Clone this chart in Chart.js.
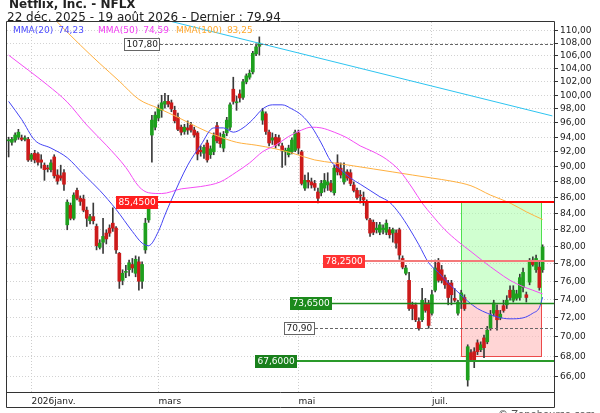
<!DOCTYPE html>
<html lang="fr">
<head>
<meta charset="utf-8">
<title>Netflix, Inc. - NFLX</title>
<script src="https://cdn.jsdelivr.net/npm/chart.js@4.4.1/dist/chart.umd.min.js"></script>
<style>
  html, body { margin: 0; padding: 0; background: #fff; }
  #box { width: 600px; height: 413px; overflow: hidden; }
  canvas { display: block; }
</style>
</head>
<body>
<div id="box"><canvas id="nflx" width="600" height="413"></canvas></div>
<script>
// sessions: Dec 22 2025 -> Aug 19 2026, NYSE closed days skipped
const firstDay = '2025-12-22';
const lastDay  = '2026-08-19';
const closedDays = ['2025-12-25', '2026-01-01', '2026-01-19', '2026-02-16',
                    '2026-04-03', '2026-05-25', '2026-06-19', '2026-07-03'];
const padSlots = 3;

const opens = [
  93.5, 93.3, 93.6, 94.0, 93.9, 93.7, 93.7, 91.0, 91.8, 91.7,
  90.9, 90.2, 89.8, 89.6, 91.3, 88.9, 88.8, 89.2, 82.6, 85.0,
  83.4, 86.9, 85.9, 85.8, 84.4, 83.1, 83.6, 82.4, 79.9, 80.5,
  81.6, 82.2, 82.8, 82.2, 79.2, 76.1, 77.0, 77.3, 77.9, 76.9,
  78.2, 76.0, 79.6, 83.2, 94.3, 95.4, 96.7, 97.8, 98.7, 99.1,
  98.9, 97.8, 96.8, 95.4, 94.8, 95.3, 95.7, 95.0, 94.6, 92.2,
  91.8, 93.2, 91.6, 92.0, 95.6, 94.0, 92.5, 94.6, 95.4, 100.9,
  98.9, 100.2, 99.7, 102.0, 102.7, 103.5, 106.3, 107.5, 96.4, 97.3,
  94.7, 93.6, 94.0, 93.9, 92.8, 92.0, 91.6, 92.0, 92.2, 94.6,
  92.0, 87.2, 88.2, 88.0, 87.8, 86.7, 86.6, 87.2, 87.6, 87.8,
  86.6, 90.5, 89.8, 88.0, 89.3, 89.2, 87.6, 86.9, 86.3, 86.0,
  85.4, 83.2, 82.9, 82.0, 81.7, 82.0, 81.7, 82.0, 81.6, 81.6,
  82.0, 78.6, 76.9, 76.1, 73.4, 73.4, 71.6, 71.8, 73.6, 73.6,
  72.5, 75.0, 78.1, 77.3, 76.4, 75.8, 75.8, 74.1, 72.5, 73.9,
  74.2, 65.7, 68.4, 68.5, 69.4, 68.7, 69.9, 69.5, 70.9, 72.5,
  72.8, 72.0, 73.3, 73.4, 75.0, 73.9, 74.1, 74.2, 75.3, 74.5,
  75.9, 78.4, 77.3, 77.6, 77.3
];
const highs = [
  94.0, 94.0, 94.6, 95.1, 94.3, 94.2, 94.0, 91.8, 92.2, 91.9,
  91.6, 90.5, 90.2, 90.9, 91.6, 89.6, 90.2, 89.6, 85.7, 85.3,
  86.6, 87.2, 86.2, 86.3, 84.8, 83.9, 85.3, 82.7, 80.8, 83.4,
  82.0, 82.6, 84.7, 82.4, 79.3, 77.3, 77.8, 78.4, 78.6, 78.9,
  78.8, 78.2, 83.4, 85.0, 97.1, 97.6, 98.6, 100.0, 100.3, 100.0,
  99.3, 98.4, 97.4, 95.7, 95.8, 96.3, 96.1, 95.4, 94.8, 92.8,
  92.9, 93.6, 92.8, 94.6, 96.1, 94.6, 94.8, 96.8, 98.9, 102.7,
  99.9, 100.8, 102.4, 103.2, 103.8, 106.7, 107.9, 109.0, 98.1, 97.6,
  95.0, 94.6, 94.4, 94.3, 93.2, 92.5, 92.9, 93.9, 95.0, 95.0,
  92.2, 88.9, 89.2, 88.5, 88.2, 87.2, 88.2, 89.1, 89.2, 88.2,
  90.2, 91.6, 90.5, 90.5, 89.6, 89.6, 88.0, 87.2, 86.9, 86.7,
  85.7, 83.4, 83.2, 82.9, 82.9, 82.6, 83.2, 82.3, 82.2, 82.0,
  82.2, 78.9, 77.8, 77.0, 73.7, 73.6, 72.0, 75.2, 74.1, 73.9,
  75.0, 78.4, 78.6, 77.8, 76.7, 76.1, 76.1, 75.2, 73.9, 75.0,
  74.5, 69.2, 68.7, 68.9, 69.7, 69.5, 70.2, 71.1, 72.8, 73.9,
  73.4, 72.8, 73.9, 74.4, 75.5, 75.5, 75.0, 76.8, 77.5, 74.8,
  78.6, 78.8, 79.0, 78.2, 80.2
];
const lows = [
  91.3, 92.9, 93.3, 93.7, 93.5, 93.5, 90.7, 90.7, 90.5, 90.2,
  89.8, 88.2, 89.3, 89.3, 88.5, 87.7, 88.2, 86.9, 82.0, 83.2,
  83.2, 85.7, 85.0, 84.2, 82.4, 82.7, 82.7, 79.6, 79.7, 79.2,
  80.3, 81.2, 81.8, 79.2, 75.2, 75.6, 76.4, 76.6, 77.0, 76.5,
  75.0, 75.2, 79.2, 82.9, 90.6, 95.0, 96.3, 96.8, 98.1, 98.3,
  97.6, 96.0, 94.9, 94.3, 94.4, 94.4, 94.7, 94.0, 90.9, 91.4,
  91.1, 90.6, 91.1, 91.6, 93.2, 92.6, 92.0, 94.2, 95.0, 98.7,
  97.8, 99.0, 99.4, 101.7, 102.4, 103.2, 106.0, 106.1, 95.8, 94.4,
  92.8, 93.0, 92.5, 92.8, 89.9, 90.2, 91.3, 91.7, 92.0, 91.7,
  87.6, 86.9, 87.2, 87.2, 86.9, 85.3, 86.2, 86.7, 86.9, 86.7,
  86.3, 88.9, 88.5, 87.7, 88.2, 87.5, 86.7, 85.8, 85.3, 85.0,
  83.2, 81.2, 81.4, 81.6, 81.4, 81.5, 81.4, 81.0, 80.5, 79.8,
  78.5, 77.4, 76.7, 72.8, 71.8, 71.6, 70.7, 71.6, 72.6, 70.9,
  72.3, 74.8, 75.9, 75.8, 75.2, 73.4, 73.4, 73.7, 72.3, 73.0,
  72.8, 65.1, 67.5, 66.9, 68.2, 68.5, 67.9, 69.3, 70.7, 72.2,
  70.7, 71.8, 72.6, 73.0, 73.9, 73.7, 73.9, 73.9, 74.8, 73.7,
  75.6, 77.7, 77.0, 75.0, 77.0
];
const closes = [
  93.6, 93.7, 94.3, 94.7, 93.7, 93.9, 90.9, 91.6, 90.9, 90.6,
  90.6, 89.6, 89.7, 90.5, 88.8, 88.1, 88.5, 87.7, 85.4, 83.4,
  86.3, 85.9, 85.5, 84.4, 83.4, 83.6, 83.1, 80.1, 80.4, 81.2,
  80.9, 81.6, 82.2, 79.6, 76.0, 76.9, 77.1, 78.1, 77.5, 78.5,
  76.0, 77.9, 82.8, 84.7, 96.4, 97.1, 98.1, 98.9, 99.1, 98.7,
  98.0, 96.3, 95.1, 94.7, 95.4, 95.0, 95.0, 94.3, 91.7, 92.0,
  92.6, 90.9, 92.4, 94.2, 93.5, 93.1, 94.4, 96.4, 98.6, 99.1,
  99.0, 99.6, 102.0, 102.9, 103.3, 106.4, 107.4, 108.0, 97.6, 94.8,
  93.2, 93.9, 92.9, 93.2, 92.2, 92.2, 92.5, 93.6, 94.7, 92.5,
  87.8, 88.2, 88.0, 87.6, 87.3, 85.9, 87.8, 88.2, 88.0, 86.9,
  89.8, 89.3, 88.9, 89.3, 88.5, 87.8, 86.9, 86.0, 86.2, 85.7,
  83.4, 81.6, 81.7, 82.2, 82.6, 82.2, 82.8, 81.4, 82.0, 80.4,
  79.0, 77.6, 77.5, 73.0, 73.0, 71.8, 70.9, 73.9, 72.8, 71.2,
  74.5, 77.5, 76.1, 76.1, 75.6, 74.2, 74.5, 73.9, 73.7, 74.7,
  73.0, 69.0, 67.7, 67.5, 68.5, 69.2, 68.9, 70.7, 72.3, 73.6,
  71.8, 72.4, 72.8, 73.9, 74.2, 75.0, 74.6, 76.4, 77.0, 74.2,
  78.2, 77.9, 78.6, 75.3, 79.94
];

// moving averages at a few sessions (session index -> value)
const mma20At = [0, 4, 8, 13, 18, 23, 28, 33, 38, 41, 43, 46, 48, 50, 55, 59, 63, 66, 69, 72,
                 75, 78, 81, 84, 87, 90, 93, 96, 99, 102, 105, 108, 111, 114, 117, 120, 123, 126, 129, 132,
                 135, 138, 141, 144, 147, 150, 154, 158, 161, 163, 164];
const mma20 = [99.1, 96.5, 93.6, 92.5, 91.2, 89.0, 86.9, 84.5, 81.8, 80.4, 80.1, 81.8, 83.8, 85.7, 90.2, 92.9, 95.3, 95.3, 94.7, 95.3,
               96.5, 98.0, 98.6, 98.6, 98.0, 97.1, 95.5, 93.2, 90.7, 89.6, 88.5, 87.7, 86.9, 86.1, 85.4, 84.0, 82.2, 80.2, 78.1, 77.0,
               75.8, 74.8, 73.8, 73.0, 72.5, 72.1, 71.9, 72.0, 72.5, 73.1, 74.23];
const mma50At = [0, 6, 12, 18, 24, 30, 36, 40, 43, 47, 53, 59, 65, 70, 74, 78, 82, 86, 90, 93,
                 96, 100, 104, 108, 112, 116, 120, 124, 127, 130, 134, 138, 142, 146, 150, 154, 158, 161, 164];
const mma50 = [106.1, 103.8, 101.5, 99.0, 95.7, 92.9, 89.9, 87.4, 86.6, 86.5, 87.1, 87.4, 88.0, 89.3, 90.5, 92.0, 92.9, 94.1, 95.0, 95.4,
               95.3, 94.7, 93.9, 92.8, 92.0, 91.0, 89.5, 87.2, 85.3, 83.8, 82.0, 80.6, 79.4, 78.2, 77.1, 76.1, 75.4, 75.0, 74.59];
const mma100At = [10, 15, 22, 28, 34, 40, 46, 52, 58, 64, 70, 76, 82, 88, 94, 100, 106, 112, 118, 124,
                  130, 136, 142, 148, 154, 159, 164];
const mma100 = [114.4, 111.4, 107.7, 104.8, 102.1, 99.4, 98.1, 96.8, 95.4, 94.2, 93.3, 92.9, 92.4, 91.7, 90.9, 90.5, 90.1, 89.7, 89.3, 88.9,
                88.5, 88.1, 87.5, 86.3, 85.3, 84.2, 83.25];
const trendAt = [50, 167];
const trend = [111.5, 97.0];

// horizontal levels and the two boxes
const levelValues = [107.80, 85.45, 78.25, 73.65, 70.90, 67.60];
const levelFrom = [35.4, 33.0, 96.5, 86.4, 84.6, 75.7];
const zoneUp = [73.65, 85.45];
const zoneDown = [68.05, 73.65];
const zoneFrom = 138.9, zoneTo = 163.4;

const priceTicks = [66, 68, 70, 72, 74, 76, 78, 80, 82, 84, 86, 88, 90,
                    92, 94, 96, 98, 100, 102, 104, 106, 108, 110];
const yMin = 64.54, yMax = 111.42;

const moisFr = ['janv.', 'févr.', 'mars', 'avr.', 'mai', 'juin', 'juil.', 'août', 'sept.', 'oct.', 'nov.', 'déc.'];
const FONT = '"DejaVu Sans", Verdana, sans-serif';

function tradingDays(from, to, skip) {
  const out = [];
  const d = new Date(from + 'T12:00:00Z');
  const end = new Date(to + 'T12:00:00Z');
  while (d <= end) {
    const iso = d.toISOString().slice(0, 10);
    const wd = d.getUTCDay();
    if (wd !== 0 && wd !== 6 && !skip.includes(iso)) out.push(iso);
    d.setUTCDate(d.getUTCDate() + 1);
  }
  return out;
}

const sessions = tradingDays(firstDay, lastDay, closedDays);
const labels = sessions.concat(Array(padSlots).fill(''));
const N = labels.length;

// every other month gets a label, like the source
const monthTick = {};
sessions.forEach((s, i) => {
  const m = +s.slice(5, 7) - 1;
  if (i > 0 && s.slice(5, 7) !== sessions[i - 1].slice(5, 7) && m % 2 === 0) {
    monthTick[i] = (m === 0 ? s.slice(0, 4) : '') + moisFr[m];
  }
});

const sparse = (at, vals) => {
  const out = Array(N).fill(null);
  at.forEach((k, j) => { out[k] = vals[j]; });
  return out;
};
const fr = (v, dp) => v.toFixed(dp).replace('.', ',');

const UP = '#1ea01e', DOWN = '#cc1b1b';
const levelStyles = [
  { dp: 2, box: '#fff', border: '#666', text: '#222', line: '#666', width: 1, dash: [3, 2] },
  { dp: 4, box: '#ff1f1f', text: '#fff', line: '#ff0000', width: 2 },
  { dp: 4, box: '#ff3333', text: '#fff', line: '#f47a7a', width: 2 },
  { dp: 4, box: '#1c8a1c', text: '#fff', line: '#1c8a1c', width: 1.5 },
  { dp: 2, box: '#fff', border: '#666', text: '#222', line: '#666', width: 1, dash: [3, 2] },
  { dp: 4, box: '#19801c', text: '#fff', line: '#2a9a2a', width: 2 }
];

const overlay = {
  id: 'overlay',
  beforeDatasetsDraw(chart) {
    const { ctx, chartArea: a, scales: { x, y } } = chart;
    const x0 = Math.round(x.getPixelForValue(zoneFrom)) + 0.5;
    const x1 = Math.round(x.getPixelForValue(zoneTo)) + 0.5;
    const box = (lo, hi, fill, edge) => {
      const yt = Math.round(y.getPixelForValue(hi)) + 0.5;
      const yb = Math.round(y.getPixelForValue(lo)) + 0.5;
      ctx.fillStyle = fill;
      ctx.fillRect(x0, yt, x1 - x0, yb - yt);
      ctx.strokeStyle = edge;
      ctx.lineWidth = 1;
      ctx.strokeRect(x0, yt, x1 - x0, yb - yt);
    };
    ctx.save();
    ctx.beginPath();
    ctx.rect(a.left, a.top, a.right - a.left, a.bottom - a.top);
    ctx.clip();
    box(zoneUp[0], zoneUp[1], 'rgba(170,255,170,0.55)', '#4fe04f');
    box(zoneDown[0], zoneDown[1], 'rgba(255,185,185,0.6)', '#ec4a4a');
    ctx.restore();
  },
  afterDatasetsDraw(chart) {
    const { ctx, chartArea: a, scales: { x, y } } = chart;
    ctx.save();
    ctx.font = '9px ' + FONT;
    ctx.textBaseline = 'middle';
    levelValues.forEach((v, k) => {
      const s = levelStyles[k];
      const txt = fr(v, s.dp);
      const py = Math.round(y.getPixelForValue(v));
      const bx = Math.round(x.getPixelForValue(levelFrom[k]));
      const bw = Math.round(ctx.measureText(txt).width + 5);
      ctx.strokeStyle = s.line;
      ctx.lineWidth = s.width;
      ctx.setLineDash(s.dash || []);
      ctx.beginPath();
      ctx.moveTo(bx + bw, py + (s.width % 2 ? 0.5 : 0));
      ctx.lineTo(a.right, py + (s.width % 2 ? 0.5 : 0));
      ctx.stroke();
      ctx.setLineDash([]);
      ctx.fillStyle = s.box;
      ctx.fillRect(bx, py - 6, bw, 13);
      if (s.border) {
        ctx.strokeStyle = s.border;
        ctx.lineWidth = 1;
        ctx.strokeRect(bx + 0.5, py - 5.5, bw - 1, 12);
      }
      ctx.fillStyle = s.text;
      ctx.fillText(txt, bx + 2.5, py + 1);
    });
    ctx.restore();
  },
  afterDraw(chart) {
    const { ctx, chartArea: a } = chart;
    ctx.save();
    // frame and date strip
    ctx.strokeStyle = '#333';
    ctx.lineWidth = 1;
    ctx.beginPath();
    ctx.moveTo(a.left - 0.5, a.top - 0.5); ctx.lineTo(a.right + 0.5, a.top - 0.5);
    ctx.moveTo(a.left - 0.5, a.top - 0.5); ctx.lineTo(a.left - 0.5, a.bottom + 15.5);
    ctx.moveTo(a.right + 0.5, a.top - 0.5); ctx.lineTo(a.right + 0.5, a.bottom + 15.5);
    ctx.moveTo(a.left - 0.5, a.bottom + 0.5); ctx.lineTo(a.right + 0.5, a.bottom + 0.5);
    ctx.moveTo(a.left - 0.5, a.bottom + 15.5); ctx.lineTo(a.right + 0.5, a.bottom + 15.5);
    ctx.stroke();

    ctx.textBaseline = 'alphabetic';
    ctx.fillStyle = '#222';
    ctx.font = 'bold 12px ' + FONT;
    ctx.fillText('Netflix, Inc. - NFLX', 9, 8);
    ctx.font = '12px ' + FONT;
    ctx.fillText('22 déc. 2025 - 19 août 2026 - Dernier : ' + fr(closes[closes.length - 1], 2), 7, 20.5);

    // legend with the last value of each average
    ctx.font = '9px ' + FONT;
    const legend = [
      ['MMA(20)', mma20[mma20.length - 1], '#4b4bff', 13],
      ['MMA(50)', mma50[mma50.length - 1], '#f23cf2', 98],
      ['MMA(100)', mma100[mma100.length - 1], '#ffa82e', 176]
    ];
    legend.forEach(([name, val, col, lx]) => {
      ctx.fillStyle = col;
      ctx.fillText(name, lx, 33);
      ctx.fillText(fr(val, 2), lx + ctx.measureText(name).width + 5, 33);
    });

    ctx.fillStyle = '#555';
    ctx.font = '10px ' + FONT;
    ctx.textBaseline = 'top';
    ctx.fillText('© Zonebourse.com', 498, 410);
    ctx.restore();
  }
};

new Chart(document.getElementById('nflx'), {
  type: 'bar',
  data: {
    labels,
    datasets: [
      { type: 'line', label: 'MMA(20)', data: sparse(mma20At, mma20), borderColor: '#4444f4', borderWidth: 1,
        pointRadius: 0, spanGaps: true, cubicInterpolationMode: 'monotone', order: 0 },
      { type: 'line', label: 'MMA(50)', data: sparse(mma50At, mma50), borderColor: '#f44cf4', borderWidth: 1,
        pointRadius: 0, spanGaps: true, cubicInterpolationMode: 'monotone', order: 0 },
      { type: 'line', label: 'MMA(100)', data: sparse(mma100At, mma100), borderColor: '#ffb040', borderWidth: 1,
        pointRadius: 0, spanGaps: true, cubicInterpolationMode: 'monotone', order: 0 },
      { type: 'line', label: 'tendance', data: sparse(trendAt, trend), borderColor: '#2ec4f0', borderWidth: 1,
        pointRadius: 0, spanGaps: true, tension: 0, order: 0 },
      { label: 'corps', data: opens.map((o, i) => [o, closes[i]]),
        backgroundColor: closes.map((c, i) => (c >= opens[i] ? UP : DOWN)),
        barThickness: 3, minBarLength: 1, grouped: false, order: 1 },
      { label: 'mèches', data: lows.map((l, i) => [l, highs[i]]),
        backgroundColor: '#3a3a3a', barThickness: 1, grouped: false, order: 2 }
    ]
  },
  options: {
    responsive: false,
    animation: false,
    layout: { padding: { left: 7, top: 22, right: 0, bottom: 5 } },
    plugins: { legend: { display: false }, tooltip: { enabled: false } },
    scales: {
      x: {
        type: 'category',
        offset: true,
        grid: { color: '#cdcdcd', drawTicks: false, offset: false },
        border: { display: false, dash: [1, 2] },
        ticks: {
          autoSkip: false, maxRotation: 0, align: 'start', padding: 4, color: '#222',
          font: { family: FONT, size: 9 },
          callback: v => monthTick[v] || ''
        },
        afterBuildTicks: s => { s.ticks = s.ticks.filter(t => monthTick[t.value]); },
        afterFit: s => { s.height = 16; }
      },
      y: {
        type: 'logarithmic',
        position: 'right',
        min: yMin,
        max: yMax,
        grid: { color: '#d2d2d2', tickLength: 4, tickColor: '#333', tickBorderDash: [] },
        border: { display: false, dash: [1, 2] },
        ticks: {
          autoSkip: false, padding: 2, color: '#222',
          font: { family: FONT, size: 9 },
          callback: v => fr(v, 2)
        },
        afterBuildTicks: s => { s.ticks = priceTicks.map(v => ({ value: v })); },
        afterFit: s => { s.width = 46; }
      }
    }
  },
  plugins: [overlay]
});
</script>
</body>
</html>
